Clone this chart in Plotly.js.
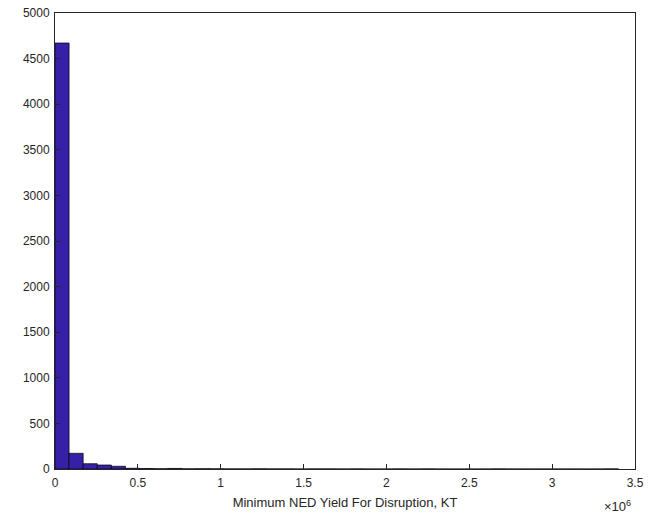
<!DOCTYPE html>
<html><head><meta charset="utf-8">
<script src="https://cdn.plot.ly/plotly-3.0.1.min.js"></script>
<style>html,body{margin:0;padding:0;background:#fff}</style>
</head><body><div id="c" style="width:654px;height:526px"></div>
<script>
// bins in units of 1e6 KT
const binStart = 0;
const binWidth = 0.085;
const counts = [4671,172,58,44,30,8,5,3,6,2,3,2,1,1,2,1,1,0,1,1,0,1,0,0,1,0,1,0,0,0,0,1,0,0,0,0,0,0,0,1];
const xTickVals = [0,0.5,1,1.5,2,2.5,3,3.5];
const xTickText = ['0','0.5','1','1.5','2','2.5','3','3.5'];
const yTickVals = [0,500,1000,1500,2000,2500,3000,3500,4000,4500,5000];
const xTitle = 'Minimum NED Yield For Disruption, KT';

const centers = counts.map((_, i) => binStart + binWidth * (i + 0.5));
const axCol = '#262626';
const trace = {
  type: 'bar', x: centers, y: counts, width: binWidth,
  marker: {color: 'rgb(54,32,168)', line: {color: '#000', width: 0.7}},
  hoverinfo: 'skip'
};
const layout = {
  width: 654, height: 526,
  margin: {l: 55, r: 19, t: 13, b: 57},
  paper_bgcolor: '#fff', plot_bgcolor: '#fff',
  showlegend: false, bargap: 0,
  font: {family: 'Liberation Sans, Arial, sans-serif', size: 12, color: axCol},
  xaxis: {
    range: [0, 3.5], tickvals: xTickVals, ticktext: xTickText,
    ticks: 'inside', ticklen: 5, tickcolor: axCol, showgrid: false, zeroline: false,
    showline: true, mirror: true, linecolor: axCol, linewidth: 1,
    ticklabelstandoff: 3,
    title: {text: xTitle, font: {size: 13, color: axCol}, standoff: 8},
    tickfont: {size: 12, color: axCol}
  },
  yaxis: {
    range: [0, 5000], tickvals: yTickVals,
    ticks: 'inside', ticklen: 5, tickcolor: axCol, showgrid: false, zeroline: false,
    showline: true, mirror: true, linecolor: axCol, linewidth: 1,
    ticklabelstandoff: 2,
    tickfont: {size: 12, color: axCol}
  },
  annotations: [{
    xref: 'paper', yref: 'paper', x: 1, y: 0, xanchor: 'right', yanchor: 'top',
    yshift: -27, xshift: -2, showarrow: false,
    text: '×10<sup>6</sup>', font: {size: 13, color: axCol}
  }]
};
Plotly.newPlot('c', [trace], layout, {displayModeBar: false, staticPlot: true});
</script></body></html>
